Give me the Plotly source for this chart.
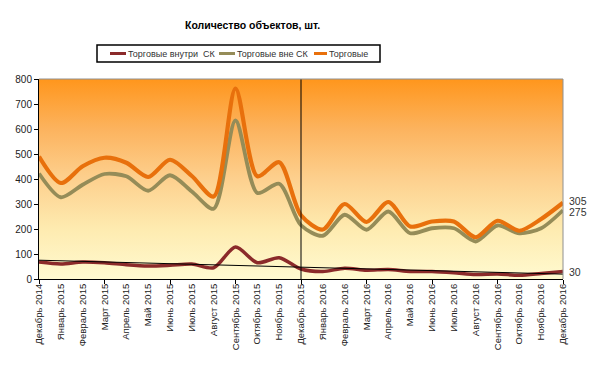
import numpy as np
import plotly.graph_objects as go

months = ["Декабрь 2014", "Январь 2015", "Февраль 2015", "Март 2015", "Апрель 2015", "Май 2015",
          "Июнь 2015", "Июль 2015", "Август 2015", "Сентябрь 2015", "Октябрь 2015", "Ноябрь 2015",
          "Декабрь 2015", "Январь 2016", "Февраль 2016", "Март 2016", "Апрель 2016", "Май 2016",
          "Июнь 2016", "Июль 2016", "Август 2016", "Сентябрь 2016", "Октябрь 2016", "Ноябрь 2016",
          "Декабрь 2016"]

inside_sk = [68, 60, 68, 65, 57, 52, 55, 60, 45, 128, 65, 85,
             40, 30, 43, 35, 38, 30, 30, 25, 18, 20, 15, 22, 30]
outside_sk = [422, 327, 377, 420, 411, 353, 415, 350, 281, 634, 344, 381,
              215, 173, 257, 197, 270, 183, 203, 203, 150, 214, 183, 203, 275]
trade = [490, 384, 451, 485, 465, 408, 477, 412, 330, 762, 411, 467,
         255, 198, 300, 228, 308, 210, 230, 230, 167, 233, 193, 240, 305]

series_names = ["Торговые внутри  СК", "Торговые вне СК", "Торговые"]
series_colors = ["#8B2A2A", "#958C58", "#E8700C"]

x = list(range(len(months)))

# linear trend of the "inside" series (Excel-style trendline)
coef = np.polyfit(x, inside_sk, 1)
trend = list(np.polyval(coef, x))

fig = go.Figure()

# gradient background of the plot area
fig.add_trace(go.Scatter(
    x=[x[0], x[-1]], y=[800, 800], mode="lines", line=dict(width=0),
    fill="tozeroy",
    fillgradient=dict(type="vertical", start=0, stop=800,
                      colorscale=[[0, "#FFFAD0"], [0.25, "#FEEBB0"], [0.5, "#FDD08E"],
                                  [0.75, "#FCB35E"], [1, "#FF961C"]]),
    showlegend=False, hoverinfo="skip"))

widths = [3.5, 3.8, 4.2]
for vals, name, col, w in zip([inside_sk, outside_sk, trade], series_names, series_colors, widths):
    fig.add_trace(go.Scatter(x=x, y=vals, mode="lines", name=name, showlegend=False,
                             line=dict(color=col, width=w, shape="spline", smoothing=0.8)))
fig.add_trace(go.Scatter(x=x, y=trend, mode="lines", line=dict(color="#000000", width=1),
                         showlegend=False, hoverinfo="skip"))

# end labels
for val, ys in zip([trade[-1], outside_sk[-1], inside_sk[-1]], [2, -2, 0]):
    fig.add_annotation(x=x[-1], y=val, text=str(val), showarrow=False, xanchor="left",
                       xshift=4, yshift=ys,
                       font=dict(family="Liberation Sans, Arial", size=10.5, color="#333333"))

fig.add_annotation(x=0.4065, y=1.27, xref="paper", yref="paper", text="<b>Количество объектов, шт.</b>",
                   showarrow=False, xanchor="center", yanchor="middle",
                   font=dict(family="Liberation Sans, Arial", size=10.5, color="#000000"))

# manual legend (compact, like the original)
def px2x(p):
    return (p - 39) / 524.0

def py2y(p):
    return (279 - p) / 200.0

fig.add_shape(type="rect", xref="paper", yref="paper", x0=px2x(97), x1=px2x(380),
              y0=py2y(62), y1=py2y(45), line=dict(color="#000000", width=1.5),
              fillcolor="#FFFFFF", layer="above")
leg_y = py2y(53.5)
for (lx0, lx1), name, col in zip([(110, 126), (219, 235), (314, 327)], series_names, series_colors):
    fig.add_shape(type="line", xref="paper", yref="paper", x0=px2x(lx0), x1=px2x(lx1),
                  y0=leg_y, y1=leg_y, line=dict(color=col, width=3), layer="above")
    fig.add_annotation(x=px2x(lx1), y=leg_y, xref="paper", yref="paper", text=name,
                       showarrow=False, xanchor="left", yanchor="middle",
                       font=dict(family="Liberation Sans, Arial", size=9, color="#333333"))

# vertical divider at Dec 2015
fig.add_shape(type="line", x0=12, x1=12, y0=0, y1=800, xref="x", yref="y",
              line=dict(color="#000000", width=1), layer="above")
# top and right border
fig.add_shape(type="line", x0=0, x1=1, y0=1, y1=1, xref="paper", yref="paper",
              line=dict(color="#909090", width=1), layer="above")
fig.add_shape(type="line", x0=1, x1=1, y0=0, y1=1, xref="paper", yref="paper",
              line=dict(color="#909090", width=1), layer="above")

fig.update_layout(
    width=600, height=368,
    margin=dict(l=31, r=45, t=71, b=97, autoexpand=False),
    paper_bgcolor="#FFFFFF", plot_bgcolor="#FFFFFF",
    font=dict(family="Liberation Sans, Arial", size=10, color="#222222"),
    showlegend=False,
    xaxis=dict(range=[0, 24], tickmode="array", tickvals=x, ticktext=months, tickangle=-90,
               showgrid=False, zeroline=False, showline=True, linecolor="#000000", linewidth=1,
               ticks="", tickfont=dict(size=9.5),
               minor=dict(tickmode="array", tickvals=list(range(0, 25, 3)), ticks="outside",
                          ticklen=4, tickcolor="#000000", showgrid=False)),
    yaxis=dict(range=[0, 800], tickmode="array", tickvals=list(range(0, 801, 100)),
               showgrid=True, gridcolor="#000000", gridwidth=1, zeroline=False,
               showline=True, linecolor="#000000", linewidth=1,
               ticks="outside", ticklen=4, tickcolor="#000000", tickfont=dict(size=10)),
)

fig.write_html("out.html")
